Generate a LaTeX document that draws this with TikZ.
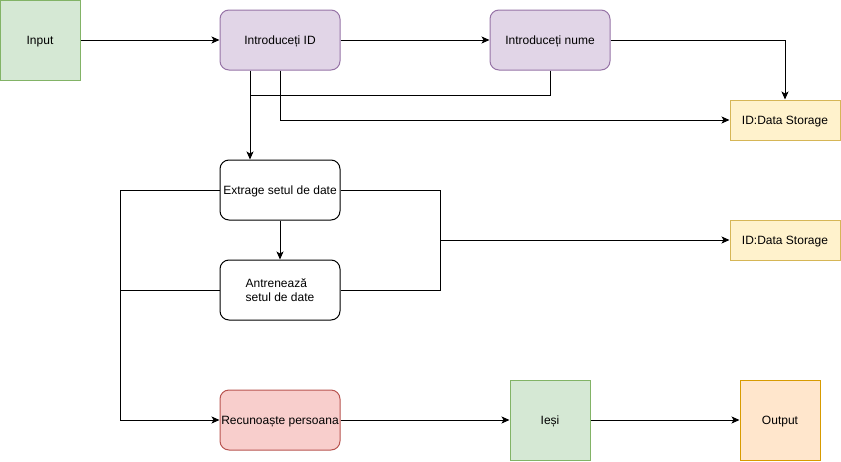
\documentclass[tikz,border=0pt]{standalone}
\usepackage{fontspec}
\setmainfont{Liberation Sans}
\usetikzlibrary{arrows.meta,calc}
\definecolor{gfill}{HTML}{D5E8D4}\definecolor{gline}{HTML}{82B366}
\definecolor{pfill}{HTML}{E1D5E7}\definecolor{pline}{HTML}{9673A6}
\definecolor{yfill}{HTML}{FFF2CC}\definecolor{yline}{HTML}{D6B656}
\definecolor{rfill}{HTML}{F8CECC}\definecolor{rline}{HTML}{B85450}
\definecolor{ofill}{HTML}{FFE6CC}\definecolor{oline}{HTML}{D79B00}
\begin{document}
\begin{tikzpicture}[x=1pt,y=-1pt,
  every node/.style={font=\fontsize{12}{14}\selectfont, inner sep=0pt, line width=1pt, text height=8.5pt, text depth=0pt},
  sq/.style={draw=gline, fill=gfill, minimum width=80pt, minimum height=80pt},
  rbox/.style={draw, rounded corners=9pt, minimum width=120pt, minimum height=60pt},
  purp/.style={rbox, draw=pline, fill=pfill},
  store/.style={draw=yline, fill=yfill, minimum width=110pt, minimum height=40pt},
  conn/.style={line width=1pt, draw=black},
  arr/.style={conn, -{Stealth[length=8pt,width=7pt,inset=2pt]}}]
\useasboundingbox (0,0) rectangle (841,461);
\node[sq] (in) at (40,40) {Input};
\node[purp] (id) at (280,40) {Introduceți ID};
\node[purp] (nume) at (550,40) {Introduceți nume};
\node[store] (st1) at (785,120) {ID:Data Storage};
\node[rbox, fill=white] (ext) at (280,190) {Extrage setul de date};
\node[rbox, fill=white, align=left, text height=, text depth=] (ant) at (280,290) {Antrenează\\setul de date};
\node[store] (st2) at (785,240) {ID:Data Storage};
\node[rbox, draw=rline, fill=rfill] (rec) at (280,420) {Recunoaște persoana};
\node[sq] (iesi) at (550,420) {Ieși};
\node[sq, draw=oline, fill=ofill] (out) at (780,420) {Output};

\coordinate (j1) at (250,95);
\coordinate (j2) at (440,240);
\coordinate (j3) at (120,290);

\draw[arr] (in) -- (id);
\draw[arr] (id) -- (nume);
\draw[arr] (nume.east) -| (st1.north);
\draw[arr] ($(id.south)+(-30,0)$) -- ($(ext.north)+(-30,0)$);
\draw[conn] (nume.south) |- (j1);
\draw[arr] (id.south) |- (st1.west);
\draw[arr] (ext) -- (ant);
\draw[conn] (ext.east) -| (j2);
\draw[conn] (ant.east) -| (j2);
\draw[arr] (j2) -- (st2.west);
\draw[arr] (ext.west) -| (120,420) -- (rec.west);
\draw[conn] (ant.west) -- (j3);
\draw[arr] (rec) -- (iesi);
\draw[arr] (iesi) -- (out);
\end{tikzpicture}
\end{document}
